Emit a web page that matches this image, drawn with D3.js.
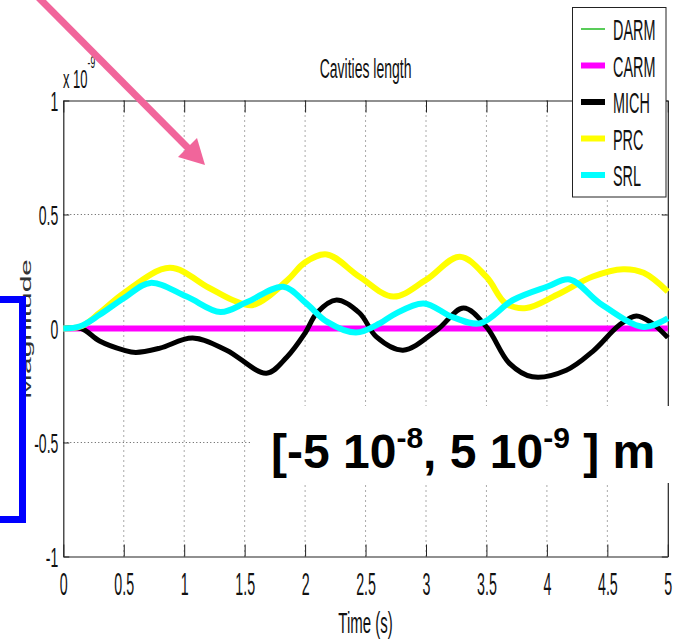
<!DOCTYPE html>
<html>
<head>
<meta charset="utf-8">
<script src="https://cdn.jsdelivr.net/npm/d3@7"></script>
<style>
  html, body { margin: 0; padding: 0; background: #fff; }
  svg { display: block; font-family: "Liberation Sans", Arial, sans-serif; }
  .lbl { fill: #111; }
</style>
</head>
<body>
<svg id="chart" width="677" height="642"></svg>
<script>
// --- DATA (magnitude in units of 1e-9) ---
const seriesNames = ["DARM", "CARM", "MICH", "PRC", "SRL"];
const seriesColors = ["#22bb22", "#ff00ff", "#000000", "#ffff00", "#00ffff"];
const seriesWidths = [1.5, 6, 5, 6, 6];

const darmPts = [[0, 0], [5, 0]];
const carmPts = [[0, 0], [5, 0]];
const michPts = [[0, 0], [0.15, 0], [0.3, -0.055], [0.5, -0.095], [0.6, -0.105], [0.8, -0.086], [1.07, -0.042],
  [1.35, -0.095], [1.68, -0.196], [1.85, -0.125], [2.0, -0.02], [2.1, 0.07], [2.26, 0.125], [2.45, 0.068],
  [2.59, -0.037], [2.81, -0.095], [3.09, -0.007], [3.31, 0.09], [3.5, 0.007], [3.69, -0.153], [3.88, -0.212],
  [4.16, -0.183], [4.38, -0.1], [4.6, 0.015], [4.74, 0.055], [4.87, 0.023], [5.0, -0.04]];
const prcPts = [[0, 0], [0.15, 0.01], [0.3, 0.068], [0.5, 0.155], [0.88, 0.266], [1.2, 0.18], [1.4, 0.125],
  [1.57, 0.103], [1.85, 0.21], [2.0, 0.29], [2.18, 0.325], [2.45, 0.227], [2.73, 0.14], [3.0, 0.213],
  [3.28, 0.315], [3.5, 0.226], [3.66, 0.11], [3.83, 0.09], [4.08, 0.147], [4.38, 0.228], [4.63, 0.26],
  [4.8, 0.244], [5.0, 0.162]];
const srlPts = [[0, 0], [0.14, 0.01], [0.3, 0.06], [0.5, 0.133], [0.72, 0.2], [1.02, 0.14], [1.3, 0.072],
  [1.52, 0.116], [1.82, 0.183], [2.01, 0.11], [2.18, 0.03], [2.42, -0.018], [2.62, 0.023], [2.73, 0.06],
  [2.98, 0.11], [3.22, 0.05], [3.45, 0.023], [3.72, 0.125], [4.0, 0.183], [4.19, 0.215], [4.44, 0.11],
  [4.8, 0.007], [5.0, 0.045]];
const seriesPts = [darmPts, carmPts, michPts, prcPts, srlPts];

const xTicks = [0, 0.5, 1, 1.5, 2, 2.5, 3, 3.5, 4, 4.5, 5];
const yTicks = [-1, -0.5, 0, 0.5, 1];

const svg = d3.select("#chart");
const pLeft = 63.3, pRight = 667.8, pTop = 100.5, pBottom = 556.5;
const x = d3.scaleLinear().domain([0, 5]).range([pLeft, pRight]);
const y = d3.scaleLinear().domain([-1, 1]).range([pBottom, pTop]);

// --- GRID ---
const grid = svg.append("g").attr("stroke", "#555").attr("stroke-width", 1);
grid.selectAll(".vg").data(xTicks.slice(1, -1)).join("line")
  .attr("x1", d => x(d)).attr("x2", d => x(d)).attr("y1", pTop).attr("y2", pBottom)
  .attr("stroke-dasharray", "1,4");
grid.selectAll(".hg").data(yTicks.slice(1, -1)).join("line")
  .attr("y1", d => y(d)).attr("y2", d => y(d)).attr("x1", pLeft).attr("x2", pRight)
  .attr("stroke-dasharray", "1,2.5");

// --- AXES ---
function styleAxis(g) {
  g.select(".domain").attr("stroke", "#222").attr("stroke-width", 1.2);
  g.selectAll(".tick line").attr("stroke", "#222");
}
const plainNum = d => String(d);
const xAxis = svg.append("g").attr("transform", `translate(0,${pBottom})`)
  .call(d3.axisBottom(x).tickValues(xTicks).tickSizeInner(-12).tickSizeOuter(0).tickFormat(plainNum));
styleAxis(xAxis);
xAxis.selectAll("text").attr("y", null).attr("dy", null)
  .attr("transform", "translate(0,38) scale(0.46,1)")
  .style("font-size", "31px").attr("class", "lbl").attr("fill", null);

const topAxis = svg.append("g").attr("transform", `translate(0,${pTop})`)
  .call(d3.axisTop(x).tickValues(xTicks).tickSizeInner(-12).tickSizeOuter(0).tickFormat(""));
styleAxis(topAxis);

const yAxis = svg.append("g").attr("transform", `translate(${pLeft},0)`)
  .call(d3.axisLeft(y).tickValues(yTicks).tickSizeInner(-6).tickSizeOuter(0).tickFormat(plainNum));
styleAxis(yAxis);
yAxis.selectAll("text").attr("x", null).attr("dy", null)
  .attr("transform", "translate(-5,10) scale(0.5,1)")
  .style("font-size", "28px").attr("class", "lbl").attr("fill", null);

const rightAxis = svg.append("g").attr("transform", `translate(${pRight},0)`)
  .call(d3.axisRight(y).tickValues(yTicks).tickSizeInner(-6).tickSizeOuter(0).tickFormat(""));
styleAxis(rightAxis);

// condensed text helper
function ctext(str, tx, ty, size, anchor) {
  return svg.append("text").attr("class", "lbl")
    .attr("transform", `translate(${tx},${ty}) scale(0.5,1)`)
    .attr("text-anchor", anchor).style("font-size", size + "px").text(str);
}

ctext("Cavities length", (pLeft + pRight) / 2, 78, 28, "middle");
ctext("Time (s)", (pLeft + pRight) / 2, 633, 30, "middle");
const expo = ctext("x 10", 63, 88, 26, "start");
expo.append("tspan").attr("dy", -20).style("font-size", "17px").text("-9");

svg.append("text").attr("class", "lbl").style("fill", "#333")
  .attr("transform", "translate(31,329) rotate(-90) scale(1,0.5)")
  .attr("text-anchor", "middle").style("font-size", "30px").text("Magnitude");

// --- LINES ---
const line = d3.line().x(d => x(d[0])).y(d => y(d[1])).curve(d3.curveCatmullRom.alpha(0.5));
svg.append("g").selectAll("path").data(seriesPts).join("path")
  .attr("d", line).attr("fill", "none")
  .attr("stroke", (d, i) => seriesColors[i])
  .attr("stroke-width", (d, i) => seriesWidths[i])
  .attr("stroke-linejoin", "round");

// --- ANNOTATION BOX ---
svg.append("rect").attr("x", 250).attr("y", 406).attr("width", 430).attr("height", 77).attr("fill", "#fff");
const ann = svg.append("text").attr("x", 271).attr("y", 468)
  .style("font-size", "48px").style("font-weight", "bold").attr("fill", "#000");
ann.append("tspan").text("[-5 10");
ann.append("tspan").attr("dy", -20).style("font-size", "30px").text("-8");
ann.append("tspan").attr("dy", 20).text(", 5 10");
ann.append("tspan").attr("dy", -20).style("font-size", "30px").text("-9");
ann.append("tspan").attr("dy", 20).text(" ] m");

// --- LEGEND ---
const legend = svg.append("g");
legend.append("rect").attr("x", 572.5).attr("y", 7.5).attr("width", 93.5).attr("height", 189.5)
  .attr("fill", "#fff").attr("stroke", "#222").attr("stroke-width", 1);
const legY = d3.scalePoint().domain(seriesNames).range([29, 175]);
const items = legend.selectAll(".li").data(seriesNames).join("g")
  .attr("transform", d => `translate(0,${legY(d)})`);
items.append("line").attr("x1", 581).attr("x2", 605)
  .attr("stroke", (d, i) => seriesColors[i])
  .attr("stroke-width", (d, i) => i === 0 ? 1.5 : 6);
items.append("text").attr("class", "lbl")
  .attr("transform", "translate(613,11) scale(0.48,1)")
  .style("font-size", "30px").text(d => d);

// --- BLUE BRACKET BOX ---
svg.append("rect").attr("x", -20).attr("y", 299.5).attr("width", 42.5).attr("height", 220)
  .attr("fill", "none").attr("stroke", "#0000ff").attr("stroke-width", 7);

// --- PINK ARROW ---
const pink = "#f1659b";
svg.append("line").attr("x1", 38).attr("y1", -3).attr("x2", 192).attr("y2", 152)
  .attr("stroke", pink).attr("stroke-width", 7);
svg.append("path").attr("d", "M205,165 L178,157 L197,138 Z").attr("fill", pink);
</script>
</body>
</html>
